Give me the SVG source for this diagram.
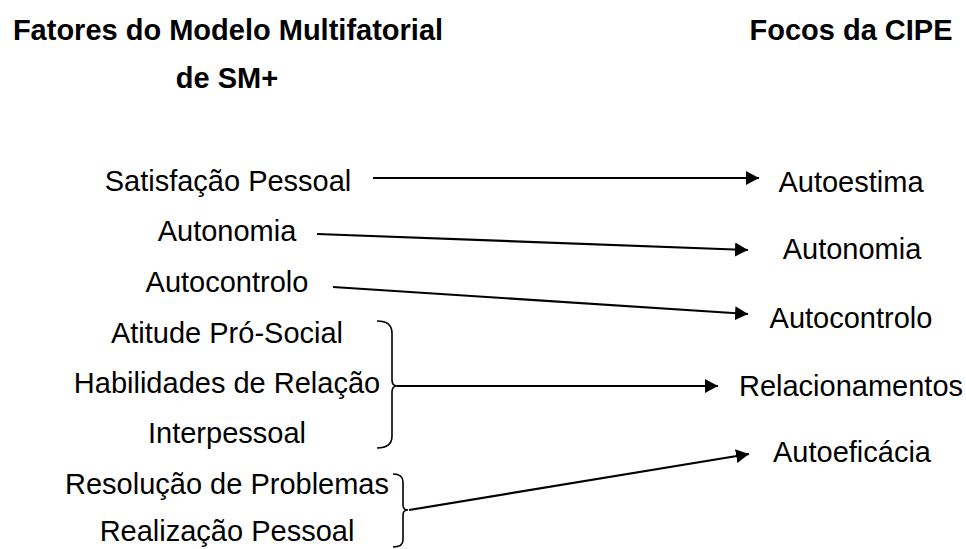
<svg xmlns="http://www.w3.org/2000/svg" width="966" height="549" viewBox="0 0 966 549">
<defs>
<style>
text{font-family:"Liberation Sans",Arial,sans-serif;font-size:29px;fill:#000;text-anchor:middle}
.h{font-weight:bold}
.c{fill:none;stroke:#000;stroke-width:2.2}
.b{fill:none;stroke:#000;stroke-width:1.6}
</style>
<marker id="ah" markerWidth="13" markerHeight="14" refX="13" refY="7" orient="auto" markerUnits="userSpaceOnUse">
<path d="M0,0 L13,7 L0,14 Z" fill="#000"/>
</marker>
</defs>
<rect width="966" height="549" fill="#fff"/>
<g id="headers">
<text class="h" x="228" y="40">Fatores do Modelo Multifatorial</text>
<text class="h" x="227" y="88">de SM+</text>
<text class="h" x="851" y="40">Focos da CIPE</text>
</g>
<g id="left-satisfacao"><text x="228" y="191">Satisfação Pessoal</text></g>
<g id="left-autonomia"><text x="227" y="241">Autonomia</text></g>
<g id="left-autocontrolo"><text x="227" y="292">Autocontrolo</text></g>
<g id="left-relacao">
<text x="227" y="343">Atitude Pró-Social</text>
<text x="227" y="393">Habilidades de Relação</text>
<text x="227" y="443">Interpessoal</text>
<path class="b" d="M377,321 Q392,321 392,333 L392,380 Q392,386 397,386 Q392,386 392,392 L392,436 Q392,448 377,448"/>
</g>
<g id="left-problemas">
<text x="227" y="494">Resolução de Problemas</text>
<text x="227" y="541">Realização Pessoal</text>
<path class="b" d="M393,474 Q403,474 403,482 L403,505 Q403,510 408,510 Q403,510 403,515 L403,540 Q403,547 393,547"/>
</g>
<g id="right-autoestima"><text x="851" y="192">Autoestima</text></g>
<g id="right-autonomia"><text x="852" y="259">Autonomia</text></g>
<g id="right-autocontrolo"><text x="851" y="328">Autocontrolo</text></g>
<g id="right-relacionamentos"><text x="851" y="396">Relacionamentos</text></g>
<g id="right-autoeficacia"><text x="852" y="462">Autoeficácia</text></g>
<g id="connectors">
<line class="c" x1="373" y1="178" x2="759" y2="178" marker-end="url(#ah)"/>
<line class="c" x1="317" y1="234" x2="748" y2="250" marker-end="url(#ah)"/>
<line class="c" x1="333" y1="287" x2="748" y2="314" marker-end="url(#ah)"/>
<line class="c" x1="397" y1="386" x2="718" y2="386" marker-end="url(#ah)"/>
<line class="c" x1="409" y1="510" x2="749" y2="454" marker-end="url(#ah)"/>
</g>
</svg>
